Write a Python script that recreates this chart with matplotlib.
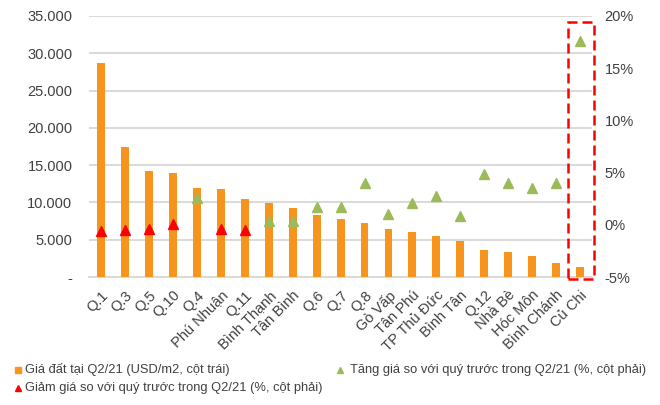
import matplotlib
matplotlib.use("Agg")
import matplotlib.pyplot as plt
from matplotlib.lines import Line2D
from matplotlib.patches import Rectangle
from matplotlib.ticker import FuncFormatter

# Districts of Ho Chi Minh City
districts = ["Q.1", "Q.3", "Q.5", "Q.10", "Q.4", "Phú Nhuận", "Q.11", "Bình Thạnh",
             "Tân Bình", "Q.6", "Q.7", "Q.8", "Gò Vấp", "Tân Phú", "TP Thủ Đức",
             "Bình Tân", "Q.12", "Nhà Bè", "Hóc Môn", "Bình Chánh", "Củ Chi"]
# Land price in Q2/21 (USD/m2)
land_price = [28700, 17500, 14200, 13900, 11900, 11800, 10450, 9900, 9250, 8350,
              7800, 7200, 6450, 6000, 5550, 4800, 3600, 3300, 2850, 1850, 1400]
# Quarter-on-quarter change in Q2/21 (%)
qoq_change = [-0.6, -0.45, -0.37, 0.1, 2.6, -0.37, -0.47, 0.4, 0.4, 1.7,
              1.7, 4.0, 1.05, 2.05, 2.75, 0.8, 4.9, 4.05, 3.55, 4.05, 17.6]
# Districts whose price fell (red) vs. rose (green)
falling = {"Q.1", "Q.3", "Q.5", "Q.10", "Phú Nhuận", "Q.11"}

left_ticks = [0, 5000, 10000, 15000, 20000, 25000, 30000, 35000]
right_ticks = [-5, 0, 5, 10, 15, 20]

ORANGE = "#F7941D"
GREEN = "#9BBB59"
RED = "#FF0000"
TEXT = "#404040"
GRID = "#D9D9D9"

plt.rcParams["font.family"] = ["Liberation Sans", "DejaVu Sans"]
plt.rcParams["font.size"] = 10.5

fig = plt.figure(figsize=(6.6, 4.05), dpi=100)
ax = fig.add_axes([0.135, 0.316, 0.762, 0.6445])
ax2 = ax.twinx()

x = list(range(len(districts)))
ax.bar(x, land_price, width=0.33, color=ORANGE, zorder=3)
ax.set_xlim(-0.5, len(districts) - 0.5)
ax.set_ylim(0, 35000)
ax.set_yticks(left_ticks)
ax.yaxis.set_major_formatter(FuncFormatter(
    lambda v, p: "-" if v == 0 else f"{int(v):,}".replace(",", ".")))
ax.grid(axis="y", color=GRID, lw=1.4, zorder=0)
ax.set_axisbelow(True)

ax2.set_ylim(-5, 20)
ax2.set_yticks(right_ticks)
ax2.yaxis.set_major_formatter(FuncFormatter(lambda v, p: f"{int(v)}%"))

fx_up = [i for i, d in enumerate(districts) if d not in falling]
fy_up = [qoq_change[i] for i in fx_up]
fx_dn = [i for i, d in enumerate(districts) if d in falling]
fy_dn = [qoq_change[i] for i in fx_dn]
ax2.plot(fx_up, fy_up, ls="none", marker="^", ms=7.5, color=GREEN, zorder=4)
ax2.plot(fx_dn, fy_dn, ls="none", marker="^", ms=7.5, color=RED, zorder=4)

# Highlight box around the last district
last = len(districts) - 1
ax2.add_patch(Rectangle((last - 0.5, -5.2), 1.1, 24.6, fill=False, ec=RED,
                        lw=1.8, ls=(0, (4, 2)), clip_on=False, zorder=5))

for a in (ax, ax2):
    for s in a.spines.values():
        s.set_visible(False)
    a.tick_params(length=0, colors=TEXT, labelsize=10.5)
ax.spines["bottom"].set_visible(True)
ax.spines["bottom"].set_color(GRID)
ax.spines["bottom"].set_linewidth(1.4)
ax.tick_params(axis="y", pad=12)
ax2.tick_params(axis="y", pad=9)

ax.set_xticks(x)
ax.set_xticklabels(districts, rotation=45, ha="right", va="top",
                   rotation_mode="anchor", fontsize=10.5, color=TEXT)
ax.tick_params(axis="x", pad=8)

# Legend
def key(xf, yf, marker, color, ms):
    fig.add_artist(Line2D([xf], [yf], marker=marker, color=color, ms=ms,
                          ls="none", transform=fig.transFigure))

r1 = 1 - 370 / 405
r2 = 1 - 388 / 405
LFS = 9.3
key(17.5 / 660, r1, "s", ORANGE, 4.5)
fig.text(25 / 660, r1, "Giá đất tại Q2/21 (USD/m2, cột trái)", va="center",
         ha="left", fontsize=LFS, color=TEXT)
key(339.5 / 660, r1, "^", GREEN, 4.5)
fig.text(350 / 660, r1, "Tăng giá so với quý trước trong Q2/21 (%, cột phải)",
         va="center", ha="left", fontsize=LFS, color=TEXT)
key(17.5 / 660, r2, "^", RED, 4.5)
fig.text(25 / 660, r2, "Giảm giá so với quý trước trong Q2/21 (%, cột phải)",
         va="center", ha="left", fontsize=LFS, color=TEXT)

fig.savefig("out.png", dpi=100)
